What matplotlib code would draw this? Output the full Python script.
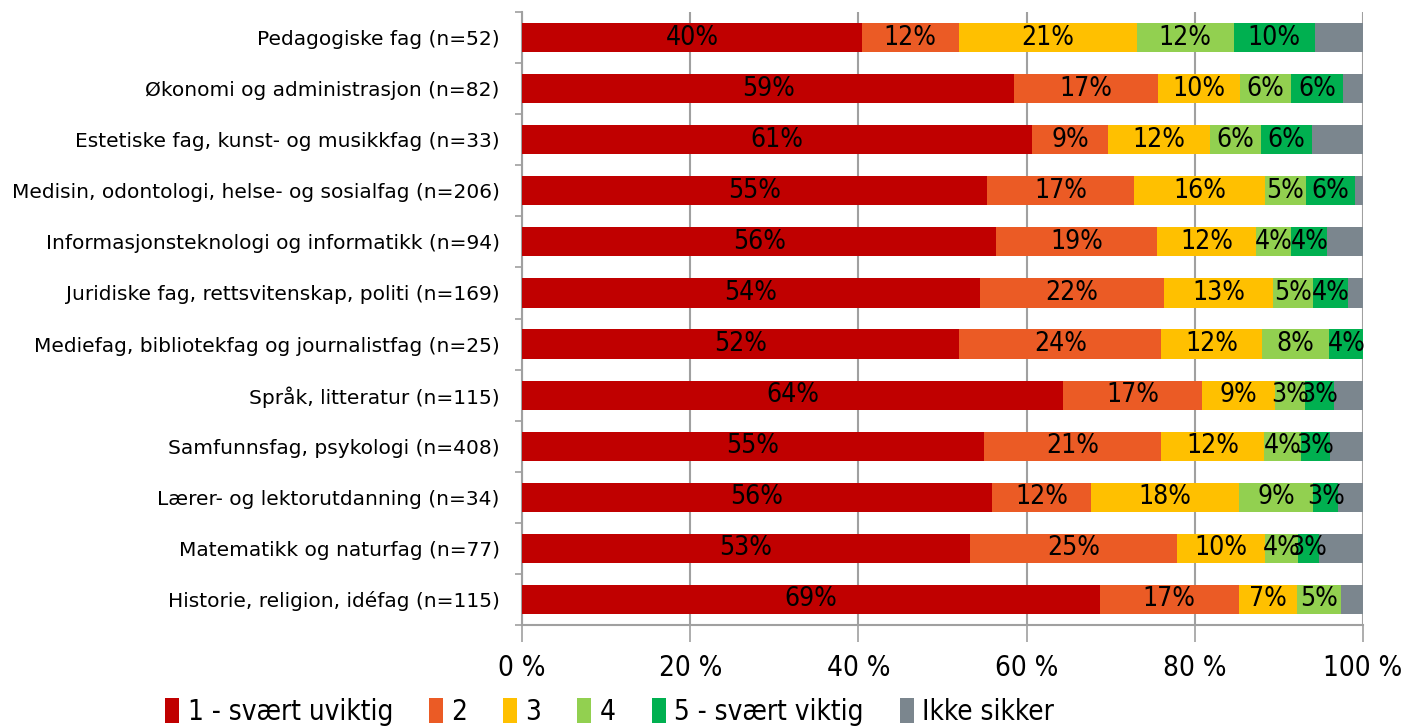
import matplotlib
matplotlib.use("Agg")
import matplotlib.pyplot as plt
import numpy as np

categories = [
    "Pedagogiske fag (n=52)",
    "Økonomi og administrasjon (n=82)",
    "Estetiske fag, kunst- og musikkfag (n=33)",
    "Medisin, odontologi, helse- og sosialfag (n=206)",
    "Informasjonsteknologi og informatikk (n=94)",
    "Juridiske fag, rettsvitenskap, politi (n=169)",
    "Mediefag, bibliotekfag og journalistfag (n=25)",
    "Språk, litteratur (n=115)",
    "Samfunnsfag, psykologi (n=408)",
    "Lærer- og lektorutdanning (n=34)",
    "Matematikk og naturfag (n=77)",
    "Historie, religion, idéfag (n=115)",
]

series_names = ["1 - svært uviktig", "2", "3", "4", "5 - svært viktig", "Ikke sikker"]

# shares in percent
s1 = [40.38, 58.54, 60.61, 55.34, 56.38, 54.44, 52.00, 64.35, 54.90, 55.88, 53.25, 68.70]
s2 = [11.54, 17.07, 9.09, 17.48, 19.15, 21.89, 24.00, 16.52, 21.08, 11.76, 24.68, 16.52]
s3 = [21.15, 9.76, 12.12, 15.53, 11.70, 13.02, 12.00, 8.70, 12.25, 17.65, 10.39, 6.96]
s4 = [11.54, 6.10, 6.06, 4.85, 4.26, 4.73, 8.00, 3.48, 4.41, 8.82, 3.90, 5.22]
s5 = [9.62, 6.10, 6.06, 5.83, 4.26, 4.14, 4.00, 3.48, 3.43, 2.94, 2.60, 0.00]
s6 = [5.77, 2.44, 6.06, 0.97, 4.26, 1.78, 0.00, 3.48, 3.92, 2.94, 5.19, 2.61]

colors = ["#C00000", "#EB5B25", "#FFC000", "#92D050", "#00B050", "#7B868E"]
show_labels = [True, True, True, True, True, False]

plt.rcParams["font.family"] = ["DejaVu Sans"]

fig = plt.figure(figsize=(14.11, 7.28), dpi=100)
ax = fig.add_axes([0.370, 0.1415, 0.596, 0.842])

series = [s1, s2, s3, s4, s5, s6]
y = np.arange(len(categories))
left = np.zeros(len(categories))
for vals, col, name, lab in zip(series, colors, series_names, show_labels):
    vals = np.array(vals)
    ax.barh(y, vals, left=left, height=0.57, color=col, label=name, zorder=3)
    if lab:
        for yi, l, v in zip(y, left, vals):
            if v > 0:
                ax.text(l + v / 2, yi, f"{round(v):d}%", ha="center", va="center",
                        fontsize=19, fontstretch="condensed", color="black", zorder=4)
    left += vals

ax.set_xlim(0, 100)
ax.set_ylim(len(categories) - 0.5, -0.5)
ax.set_yticks(y)
ax.set_yticklabels(categories, fontsize=14.5)
ax.set_yticks(np.arange(len(categories) + 1) - 0.5, minor=True)
ax.tick_params(axis="y", which="major", length=0, pad=16)
ax.tick_params(axis="y", which="minor", length=5, width=1.2, color="#A0A0A0")

ax.set_xticks(np.arange(0, 101, 20))
ax.set_xticklabels([f"{v} %" for v in range(0, 101, 20)], fontsize=20, fontstretch="condensed")
ax.tick_params(axis="x", length=12, width=1.2, color="#A0A0A0", pad=9)

ax.grid(axis="x", color="#A0A0A0", linewidth=1.5, zorder=0)
for side in ["top", "right"]:
    ax.spines[side].set_visible(False)
for side in ["left", "bottom"]:
    ax.spines[side].set_color("#A0A0A0")
    ax.spines[side].set_linewidth(1.5)

fig.legend(loc="center", bbox_to_anchor=(0.432, 0.022), ncol=6, frameon=False,
           handlelength=0.5, handleheight=1.0, handletextpad=0.3,
           columnspacing=1.3, prop={"size": 20, "stretch": "condensed"})

fig.savefig("out.png", dpi=100)
